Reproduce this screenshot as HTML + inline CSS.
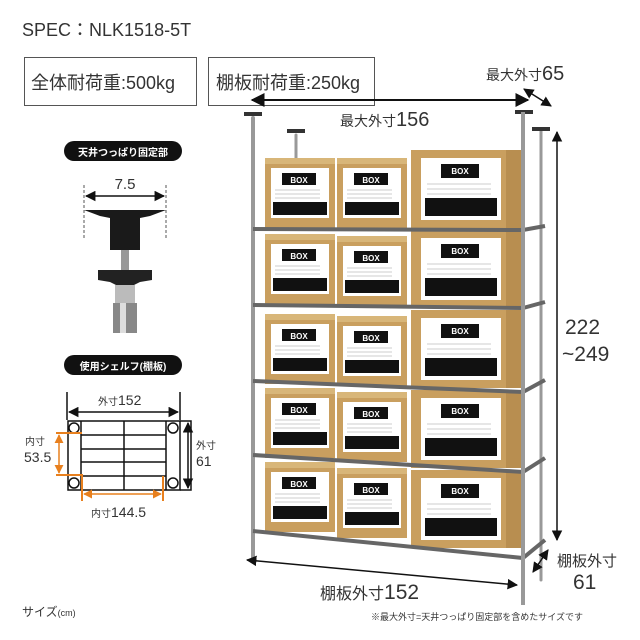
<!DOCTYPE html>
<html><head><meta charset="utf-8"><style>
body{margin:0;background:#fff}
svg{display:block}
text{font-family:"Liberation Sans","Noto Sans CJK JP",sans-serif}
</style></head><body>
<svg width="640" height="640" viewBox="0 0 640 640" xmlns="http://www.w3.org/2000/svg">
<defs>
<marker id="a" viewBox="0 0 10 10" refX="9" refY="5" markerWidth="7" markerHeight="7" orient="auto-start-reverse"><path d="M0,0L10,5L0,10z" fill="#111"/></marker>
<marker id="o" viewBox="0 0 10 10" refX="9" refY="5" markerWidth="6" markerHeight="6" orient="auto-start-reverse"><path d="M0,0L10,5L0,10z" fill="#e8801e"/></marker>
<g id="bs"><rect x="0" y="0" width="70" height="70" fill="#c99f5f"/><rect x="0" y="0" width="70" height="6" fill="#d8b679"/><rect x="6" y="10" width="58" height="50" fill="#fff"/><rect x="17" y="15" width="34" height="12" fill="#111"/><line x1="10" y1="32" x2="55" y2="32" stroke="#ccc"/><line x1="10" y1="36" x2="55" y2="36" stroke="#ccc"/><line x1="10" y1="40" x2="55" y2="40" stroke="#ccc"/><rect x="8" y="44" width="54" height="13" fill="#111"/></g>
<g id="bl"><rect x="0" y="0" width="112" height="78" fill="#c99f5f"/><rect x="95" y="0" width="17" height="78" fill="#b88e50"/><rect x="10" y="8" width="80" height="62" fill="#fff"/><rect x="30" y="14" width="38" height="14" fill="#111"/><line x1="16" y1="34" x2="80" y2="34" stroke="#ccc"/><line x1="16" y1="39" x2="80" y2="39" stroke="#ccc"/><line x1="16" y1="44" x2="80" y2="44" stroke="#ccc"/><rect x="14" y="48" width="72" height="18" fill="#111"/></g>
</defs>

<text x="22" y="36" font-size="18" fill="#333">SPEC：NLK1518-5T</text>
<rect x="24.5" y="57.5" width="172" height="48" fill="none" stroke="#555"/>
<text x="31" y="89" font-size="18" fill="#333">全体耐荷重:500kg</text>
<rect x="208.5" y="57.5" width="166" height="48" fill="none" stroke="#555"/>
<text x="216" y="89" font-size="18" fill="#333">棚板耐荷重:250kg</text>
<text x="486" y="80" font-size="14" fill="#333">最大外寸<tspan font-size="20">65</tspan></text>
<line x1="524" y1="89" x2="551" y2="106" stroke="#111" stroke-width="1.5" marker-start="url(#a)" marker-end="url(#a)"/>
<line x1="252" y1="100" x2="528" y2="100" stroke="#111" stroke-width="2" marker-start="url(#a)" marker-end="url(#a)"/>
<text x="340" y="126" font-size="14" fill="#333">最大外寸<tspan font-size="20">156</tspan></text>

<g stroke-linecap="round">
<line x1="253" y1="118" x2="253" y2="560" stroke="#999" stroke-width="4"/>
<line x1="296" y1="135" x2="296" y2="165" stroke="#999" stroke-width="3"/>
<line x1="541" y1="130" x2="541" y2="580" stroke="#999" stroke-width="3"/>
</g>
<rect x="244" y="112" width="18" height="4" fill="#333"/><rect x="287" y="129" width="18" height="4" fill="#333"/>
<rect x="515" y="110" width="18" height="4" fill="#333"/><rect x="532" y="127" width="18" height="4" fill="#333"/>

<use href="#bs" x="265" y="158"/><use href="#bs" x="337" y="158"/><use href="#bl" x="411" y="150"/>
<use href="#bs" x="265" y="234"/><use href="#bs" x="337" y="236"/><use href="#bl" x="411" y="230"/>
<use href="#bs" x="265" y="314"/><use href="#bs" x="337" y="316"/><use href="#bl" x="411" y="310"/>
<use href="#bs" x="265" y="388"/><use href="#bs" x="337" y="392"/><use href="#bl" x="411" y="390"/>
<use href="#bs" x="265" y="462"/><use href="#bs" x="337" y="468"/><use href="#bl" x="411" y="470"/>
<g font-size="8" font-weight="bold" fill="#fff" text-anchor="middle">
<text x="299" y="183">BOX</text><text x="371" y="183">BOX</text><text x="460" y="174">BOX</text>
<text x="299" y="259">BOX</text><text x="371" y="261">BOX</text><text x="460" y="254">BOX</text>
<text x="299" y="339">BOX</text><text x="371" y="341">BOX</text><text x="460" y="334">BOX</text>
<text x="299" y="413">BOX</text><text x="371" y="417">BOX</text><text x="460" y="414">BOX</text>
<text x="299" y="487">BOX</text><text x="371" y="493">BOX</text><text x="460" y="494">BOX</text>
</g>

<g fill="none" stroke="#666" stroke-width="4">
<path d="M253,229L523,230L545,226"/><path d="M253,305L523,308L545,302"/>
<path d="M253,381L523,392L545,380"/><path d="M253,455L523,472L545,458"/>
<path d="M253,531L523,558L545,540"/>
</g>
<line x1="523" y1="112" x2="523" y2="605" stroke="#999" stroke-width="4"/>

<line x1="557" y1="132" x2="557" y2="540" stroke="#111" stroke-width="1.5" marker-start="url(#a)" marker-end="url(#a)"/>
<text x="565" y="334" font-size="21" fill="#333">222</text>
<text x="562" y="361" font-size="21" fill="#333">~249</text>
<line x1="548" y1="550" x2="533" y2="572" stroke="#111" stroke-width="1.5" marker-start="url(#a)" marker-end="url(#a)"/>
<text x="557" y="566" font-size="15" fill="#333">棚板外寸</text>
<text x="573" y="589" font-size="21" fill="#333">61</text>
<line x1="247" y1="560" x2="517" y2="585" stroke="#111" stroke-width="1.5" marker-start="url(#a)" marker-end="url(#a)"/>
<text x="320" y="599" font-size="16" fill="#333">棚板外寸<tspan font-size="21">152</tspan></text>
<text x="22" y="616" font-size="12" fill="#333">サイズ<tspan font-size="9">(cm)</tspan></text>
<text x="371" y="620" font-size="9" fill="#333">※最大外寸=天井つっぱり固定部を含めたサイズです</text>

<rect x="64" y="141" width="118" height="20" rx="10" fill="#111"/>
<text x="123" y="156" font-size="10" font-weight="bold" fill="#fff" text-anchor="middle">天井つっぱり固定部</text>
<text x="125" y="189" font-size="15" fill="#333" text-anchor="middle">7.5</text>
<line x1="84" y1="185" x2="84" y2="238" stroke="#555" stroke-dasharray="3,2"/>
<line x1="166" y1="185" x2="166" y2="238" stroke="#555" stroke-dasharray="3,2"/>
<line x1="86" y1="196" x2="164" y2="196" stroke="#111" stroke-width="1.5" marker-start="url(#a)" marker-end="url(#a)"/>
<path d="M84,210L166,210L150,216L140,218L140,250L110,250L110,218L100,216z" fill="#1a1a1a"/>
<rect x="121" y="250" width="8" height="20" fill="#999"/>
<path d="M98,270L152,270L152,280L140,282L130,287L120,287L110,282L98,280z" fill="#222"/>
<rect x="115" y="285" width="20" height="18" fill="#bbb"/>
<rect x="113" y="303" width="24" height="30" fill="#888"/>
<rect x="120" y="303" width="6" height="30" fill="#ddd"/>

<rect x="64" y="355" width="118" height="20" rx="10" fill="#111"/>
<text x="123" y="370" font-size="10" font-weight="bold" fill="#fff" text-anchor="middle">使用シェルフ(棚板)</text>
<text x="98" y="405" font-size="10" fill="#333">外寸<tspan font-size="14">152</tspan></text>
<line x1="67" y1="392" x2="67" y2="420" stroke="#111" stroke-width="1.5"/>
<line x1="180" y1="392" x2="180" y2="420" stroke="#111" stroke-width="1.5"/>
<line x1="69" y1="412" x2="178" y2="412" stroke="#111" stroke-width="1.5" marker-start="url(#a)" marker-end="url(#a)"/>
<g fill="none" stroke="#111" stroke-width="1.5">
<rect x="68" y="421" width="112" height="69"/>
<line x1="81" y1="421" x2="81" y2="490"/><line x1="166" y1="421" x2="166" y2="490"/>
<line x1="124" y1="421" x2="124" y2="490"/>
<line x1="81" y1="435" x2="166" y2="435"/><line x1="81" y1="449" x2="166" y2="449"/><line x1="81" y1="462" x2="166" y2="462"/><line x1="81" y1="476" x2="166" y2="476"/>
<circle cx="74" cy="428" r="5" fill="#fff"/><circle cx="173" cy="428" r="5" fill="#fff"/>
<circle cx="74" cy="483" r="5" fill="#fff"/><circle cx="173" cy="483" r="5" fill="#fff"/>
<path d="M180,421H191V490H180"/>
</g>
<line x1="188" y1="423" x2="188" y2="488" stroke="#111" stroke-width="1.5" marker-start="url(#a)" marker-end="url(#a)"/>
<text x="196" y="449" font-size="10" fill="#333">外寸</text>
<text x="196" y="466" font-size="14" fill="#333">61</text>
<g stroke="#e8801e" stroke-width="2" fill="none">
<path d="M56,433H82"/><path d="M56,475H82V501"/><path d="M163,476V501"/>
</g>
<line x1="59" y1="435" x2="59" y2="473" stroke="#e8801e" stroke-width="1.5" marker-start="url(#o)" marker-end="url(#o)"/>
<line x1="84" y1="494" x2="161" y2="494" stroke="#e8801e" stroke-width="1.5" marker-start="url(#o)" marker-end="url(#o)"/>
<text x="25" y="445" font-size="10" fill="#333">内寸</text>
<text x="24" y="462" font-size="14" fill="#333">53.5</text>
<text x="91" y="517" font-size="10" fill="#333">内寸<tspan font-size="14">144.5</tspan></text>
</svg>
</body></html>
